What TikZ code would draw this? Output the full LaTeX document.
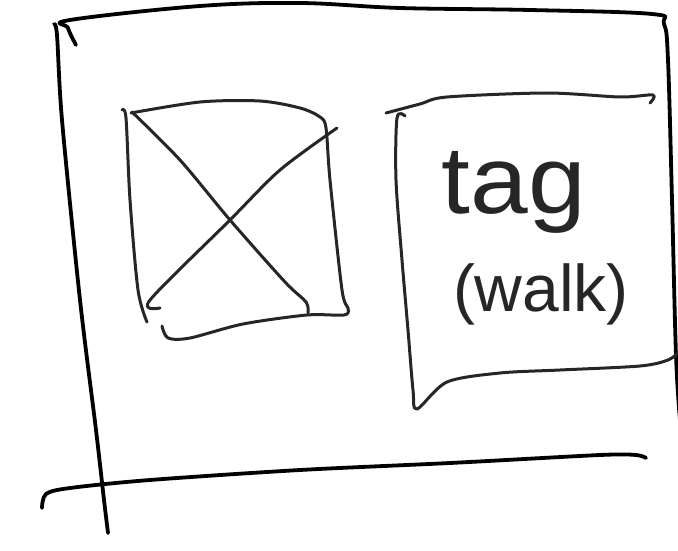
\documentclass[tikz,border=0pt]{standalone}
\usepackage{fontspec}
\setmainfont{Liberation Sans}
\begin{document}
\begin{tikzpicture}[x=1pt,y=-1pt,
  thick/.style={line width=3.8pt,line cap=round,line join=round,black},
  thin/.style={line width=3pt,line cap=round,line join=round,black!85},
  hand/.style={font=\fontsize{#1}{#1}\selectfont,inner sep=0pt,text=black!85}]
\useasboundingbox (0,0) rectangle (678,551);
% outer frame
\draw[thick] plot[smooth,tension=0.6] coordinates {(76,45) (68,28) (70,20) (200,6) (300,3) (400,8) (530,10) (652,14) (664,24) (668,60) (672,200) (676,355) (680,420)};
\draw[thick] plot[smooth,tension=0.5] coordinates {(54,24) (57,35) (62,120) (80,300) (96,430) (104,500) (108,533)};
\draw[thick] plot[smooth,tension=0.5] coordinates {(42,508) (46,494) (70,488) (150,480) (300,470) (450,463) (600,455) (636,455) (646,458)};
% picture placeholder box
\draw[thin] plot[smooth,tension=0.5] coordinates {(122,110) (126,118) (130,200) (138,290) (147,322)};
\draw[thin] plot[smooth,tension=0.5] coordinates {(131,113) (200,102) (260,101) (300,108) (320,117) (326,128) (330,180) (342,290) (348,308) (344,315) (307,315) (243,324) (190,338) (168,338) (162,326)};
\draw[thin] plot[smooth,tension=0.5] coordinates {(132,112) (180,160) (230,220) (285,282) (306,302) (308,313)};
\draw[thin] plot[smooth,tension=0.5] coordinates {(337,128) (280,170) (230,220) (150,300) (160,308)};
% right box
\draw[thin] plot[smooth,tension=0.5] coordinates {(386,113) (420,104) (447,97) (547,93) (620,97) (653,95) (650,103)};
\draw[thin] plot[smooth,tension=0.5] coordinates {(405,116) (397,118) (396,180) (402,260) (408,330) (413,390) (417,409) (447,382) (500,373) (560,370) (640,366) (668,360) (679,352)};
\node[hand=96pt,xscale=1.08,anchor=base] (tag) at (514,213) {tag};
\node[hand=66pt,anchor=center] (walk) at (541,294) {(walk)};
\end{tikzpicture}
\end{document}
